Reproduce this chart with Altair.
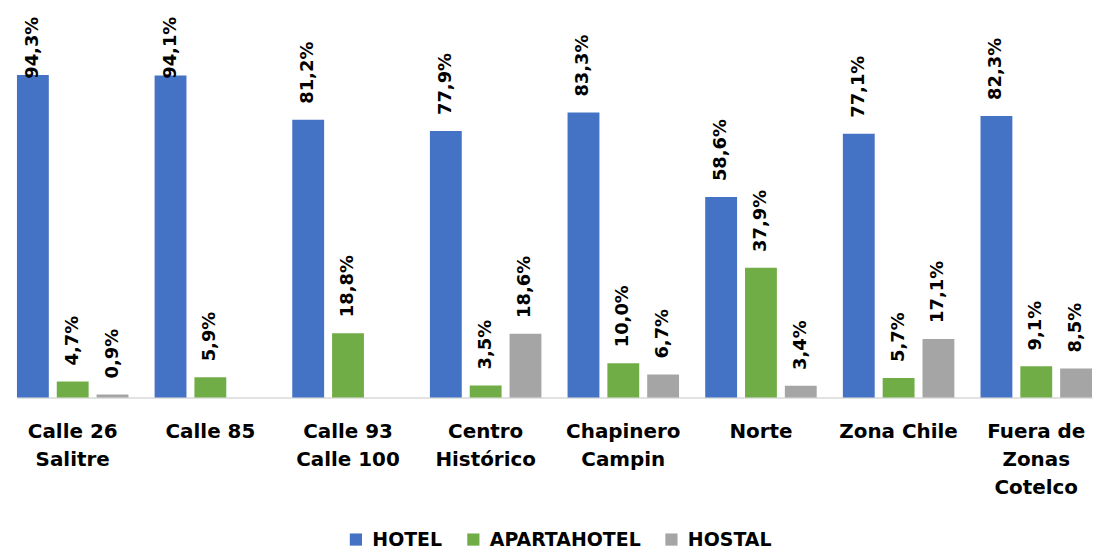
import altair as alt
import pandas as pd

categories = ["Calle 26|Salitre", "Calle 85", "Calle 93|Calle 100", "Centro|Histórico",
              "Chapinero|Campin", "Norte", "Zona Chile", "Fuera de|Zonas|Cotelco"]
series = ["HOTEL", "APARTAHOTEL", "HOSTAL"]
hotel = [94.3, 94.1, 81.2, 77.9, 83.3, 58.6, 77.1, 82.3]
apartahotel = [4.7, 5.9, 18.8, 3.5, 10.0, 37.9, 5.7, 9.1]
hostal = [0.9, None, None, 18.6, 6.7, 3.4, 17.1, 8.5]
colors = ["#4472C4", "#70AD47", "#A5A5A5"]

rows = []
for name, vals in zip(series, [hotel, apartahotel, hostal]):
    for c, v in zip(categories, vals):
        if v is not None:
            rows.append({"zona": c, "tipo": name, "valor": v})
df = pd.DataFrame(rows)

FONT = "DejaVu Sans"

x = alt.X("zona:N", sort=categories, title=None,
          scale=alt.Scale(paddingInner=0.19, paddingOuter=0),
          axis=alt.Axis(labelExpr="split(datum.label, '|')", labelAngle=0,
                        labelFont=FONT, labelFontSize=20, labelFontWeight="bold",
                        labelColor="#000000", labelPadding=24, labelLineHeight=28,
                        ticks=False, domainColor="#D9D9D9", domainWidth=1.5,
                        labelBaseline="top"))
xoff = alt.XOffset("tipo:N", sort=series, scale=alt.Scale(paddingInner=0.2, paddingOuter=0))
yscale = alt.Scale(domain=[0, 113.5], nice=False)

base = alt.Chart(df)

bars = base.mark_bar().encode(
    x=x,
    xOffset=xoff,
    y=alt.Y("valor:Q", scale=yscale, axis=None, title=None),
    color=alt.Color("tipo:N", sort=series,
                    scale=alt.Scale(domain=series, range=colors),
                    legend=alt.Legend(title=None, orient="none", direction="horizontal",
                                      legendX=331, legendY=523, symbolType="square",
                                      symbolSize=150, symbolStrokeWidth=0,
                                      labelFont=FONT, labelFontSize=19,
                                      labelFontWeight="bold", labelColor="#000000",
                                      columnPadding=21, labelOffset=7, padding=0)),
)

labels = base.transform_calculate(
    txt="replace(format(datum.valor, '.1f'), '.', ',') + '%'",
    ly="min(datum.valor, 88.5)",
).mark_text(angle=270, align="left", baseline="middle", dx=16,
            font=FONT, fontSize=18, fontWeight="bold", color="#000000").encode(
    x=x,
    xOffset=xoff,
    y=alt.Y("ly:Q", scale=yscale, axis=None),
    text="txt:N",
)

chart = alt.layer(bars, labels).properties(
    width=1080, height=390,
    padding={"left": 9, "top": 0, "right": 0, "bottom": 0},
).configure_view(stroke=None).configure_axis(grid=False)

chart.save("out.html", embed_options={"renderer": "svg", "actions": False})
